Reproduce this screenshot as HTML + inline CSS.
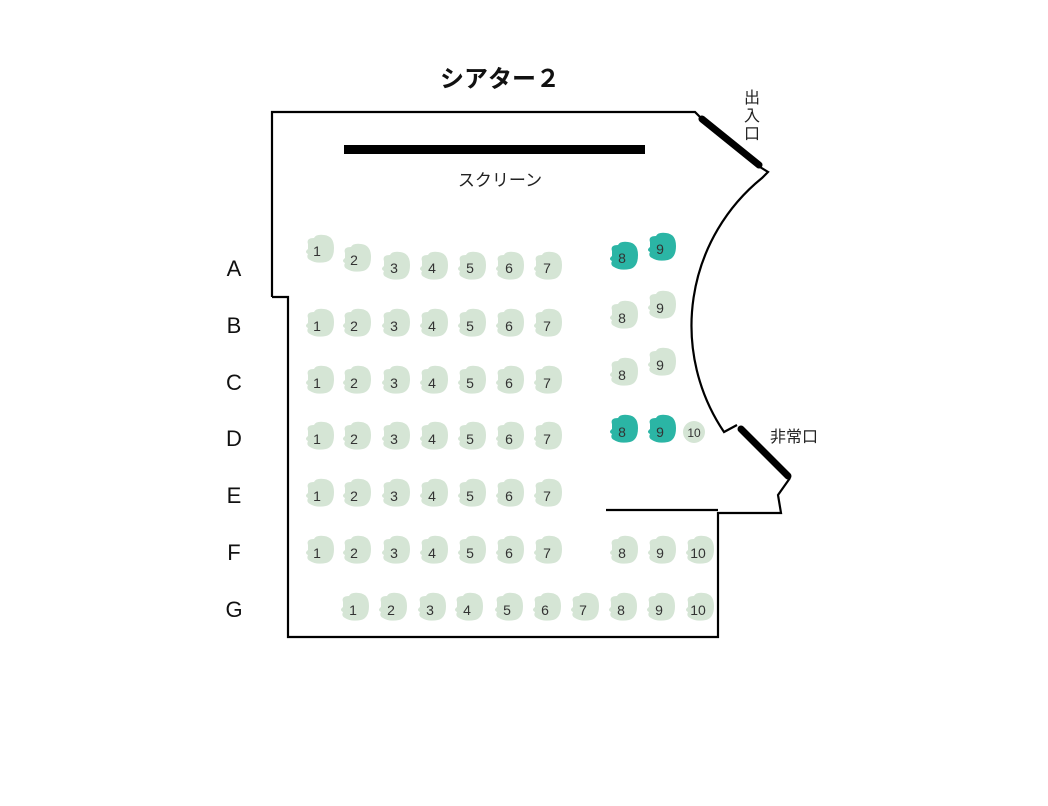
<!DOCTYPE html>
<html><head><meta charset="utf-8"><style>
html,body{margin:0;padding:0;background:#fff;}
svg{display:block;}
text{font-family:"Liberation Sans","Noto Sans CJK JP",sans-serif;}
</style></head><body>
<svg width="1048" height="806" viewBox="0 0 1048 806" xmlns="http://www.w3.org/2000/svg">
<defs>
<g id="s"><path d="M-12,-6 Q-14,-12 -6,-12 Q-4,-16 4,-15 Q14,-14 14,-2 Q14,10 6,12 Q-4,14 -10,10 Q-14,8 -12,4 Q-16,2 -12,-1 Z" /></g>
</defs>
<text x="500" y="87" font-size="24" font-weight="bold" text-anchor="middle" fill="#111">シアター２</text>
<text x="500" y="186" font-size="17" text-anchor="middle" fill="#222">スクリーン</text>
<rect x="344" y="145" width="301" height="9" fill="#000"/>
<g fill="none" stroke="#000" stroke-width="2.2" stroke-linejoin="miter">
<path d="M272,297 L272,112 L695,112 L700,117 M760,167 L768,172 L762,178 A190,190 0 0 0 724,432 L737,425"/>
<path d="M790,478 L778,495 L781,513 L718,513 L718,637 L288,637 L288,297 L272,297"/>
<path d="M606,510 L718,510"/>
</g>
<g stroke="#000" stroke-width="7" stroke-linecap="round">
<line x1="702" y1="119" x2="759" y2="165"/>
<line x1="741" y1="429" x2="788" y2="476"/>
</g>
<text x="752" y="103" font-size="16" text-anchor="middle" fill="#222">出</text>
<text x="752" y="121" font-size="16" text-anchor="middle" fill="#222">入</text>
<text x="752" y="139" font-size="16" text-anchor="middle" fill="#222">口</text>
<text x="770" y="442" font-size="16" fill="#222">非常口</text>
<g font-size="22" fill="#111" text-anchor="middle">
<text x="234" y="276">A</text><text x="234" y="333">B</text><text x="234" y="390">C</text>
<text x="234" y="446">D</text><text x="234" y="503">E</text><text x="234" y="560">F</text><text x="234" y="617">G</text>
</g>
<g font-size="14" text-anchor="middle" fill="#333">
<g fill="#d5e5d5">
<use href="#s" x="320" y="250"/><use href="#s" x="357" y="259"/><use href="#s" x="396" y="267"/><use href="#s" x="434" y="267"/><use href="#s" x="472" y="267"/><use href="#s" x="510" y="267"/><use href="#s" x="548" y="267"/>
</g>
<g fill="#2bb5a5"><use href="#s" x="624" y="257"/><use href="#s" x="662" y="248"/></g>
<text x="317" y="256">1</text><text x="354" y="265">2</text><text x="394" y="273">3</text><text x="432" y="273">4</text><text x="470" y="273">5</text><text x="509" y="273">6</text><text x="547" y="273">7</text><text x="622" y="263">8</text><text x="660" y="254">9</text>
</g>
<g font-size="14" text-anchor="middle" fill="#333">
<g fill="#d5e5d5">
<use href="#s" x="320" y="324"/><use href="#s" x="357" y="324"/><use href="#s" x="396" y="324"/><use href="#s" x="434" y="324"/><use href="#s" x="472" y="324"/><use href="#s" x="510" y="324"/><use href="#s" x="548" y="324"/>
<use href="#s" x="624" y="316"/><use href="#s" x="662" y="306"/>
<use href="#s" x="320" y="381"/><use href="#s" x="357" y="381"/><use href="#s" x="396" y="381"/><use href="#s" x="434" y="381"/><use href="#s" x="472" y="381"/><use href="#s" x="510" y="381"/><use href="#s" x="548" y="381"/>
<use href="#s" x="624" y="373"/><use href="#s" x="662" y="363"/>
<use href="#s" x="320" y="437"/><use href="#s" x="357" y="437"/><use href="#s" x="396" y="437"/><use href="#s" x="434" y="437"/><use href="#s" x="472" y="437"/><use href="#s" x="510" y="437"/><use href="#s" x="548" y="437"/>
<use href="#s" x="320" y="494"/><use href="#s" x="357" y="494"/><use href="#s" x="396" y="494"/><use href="#s" x="434" y="494"/><use href="#s" x="472" y="494"/><use href="#s" x="510" y="494"/><use href="#s" x="548" y="494"/>
<use href="#s" x="320" y="551"/><use href="#s" x="357" y="551"/><use href="#s" x="396" y="551"/><use href="#s" x="434" y="551"/><use href="#s" x="472" y="551"/><use href="#s" x="510" y="551"/><use href="#s" x="548" y="551"/>
<use href="#s" x="624" y="551"/><use href="#s" x="662" y="551"/><use href="#s" x="700" y="551"/>
<use href="#s" x="355" y="608"/><use href="#s" x="393" y="608"/><use href="#s" x="432" y="608"/><use href="#s" x="469" y="608"/><use href="#s" x="509" y="608"/><use href="#s" x="547" y="608"/><use href="#s" x="585" y="608"/><use href="#s" x="623" y="608"/><use href="#s" x="661" y="608"/><use href="#s" x="700" y="608"/>
<circle cx="694" cy="432" r="11"/>
</g>
<g fill="#2bb5a5"><use href="#s" x="624" y="430"/><use href="#s" x="662" y="430"/></g>
<text x="317" y="331">1</text><text x="354" y="331">2</text><text x="394" y="331">3</text><text x="432" y="331">4</text><text x="470" y="331">5</text><text x="509" y="331">6</text><text x="547" y="331">7</text><text x="622" y="323">8</text><text x="660" y="313">9</text>
<text x="317" y="388">1</text><text x="354" y="388">2</text><text x="394" y="388">3</text><text x="432" y="388">4</text><text x="470" y="388">5</text><text x="509" y="388">6</text><text x="547" y="388">7</text><text x="622" y="380">8</text><text x="660" y="370">9</text>
<text x="317" y="444">1</text><text x="354" y="444">2</text><text x="394" y="444">3</text><text x="432" y="444">4</text><text x="470" y="444">5</text><text x="509" y="444">6</text><text x="547" y="444">7</text><text x="622" y="437">8</text><text x="660" y="437">9</text><text x="694" y="437" font-size="12">10</text>
<text x="317" y="501">1</text><text x="354" y="501">2</text><text x="394" y="501">3</text><text x="432" y="501">4</text><text x="470" y="501">5</text><text x="509" y="501">6</text><text x="547" y="501">7</text>
<text x="317" y="558">1</text><text x="354" y="558">2</text><text x="394" y="558">3</text><text x="432" y="558">4</text><text x="470" y="558">5</text><text x="509" y="558">6</text><text x="547" y="558">7</text><text x="622" y="558">8</text><text x="660" y="558">9</text><text x="698" y="558">10</text>
<text x="353" y="615">1</text><text x="391" y="615">2</text><text x="430" y="615">3</text><text x="467" y="615">4</text><text x="507" y="615">5</text><text x="545" y="615">6</text><text x="583" y="615">7</text><text x="621" y="615">8</text><text x="659" y="615">9</text><text x="698" y="615">10</text>
</g>
</svg>
</body></html>
